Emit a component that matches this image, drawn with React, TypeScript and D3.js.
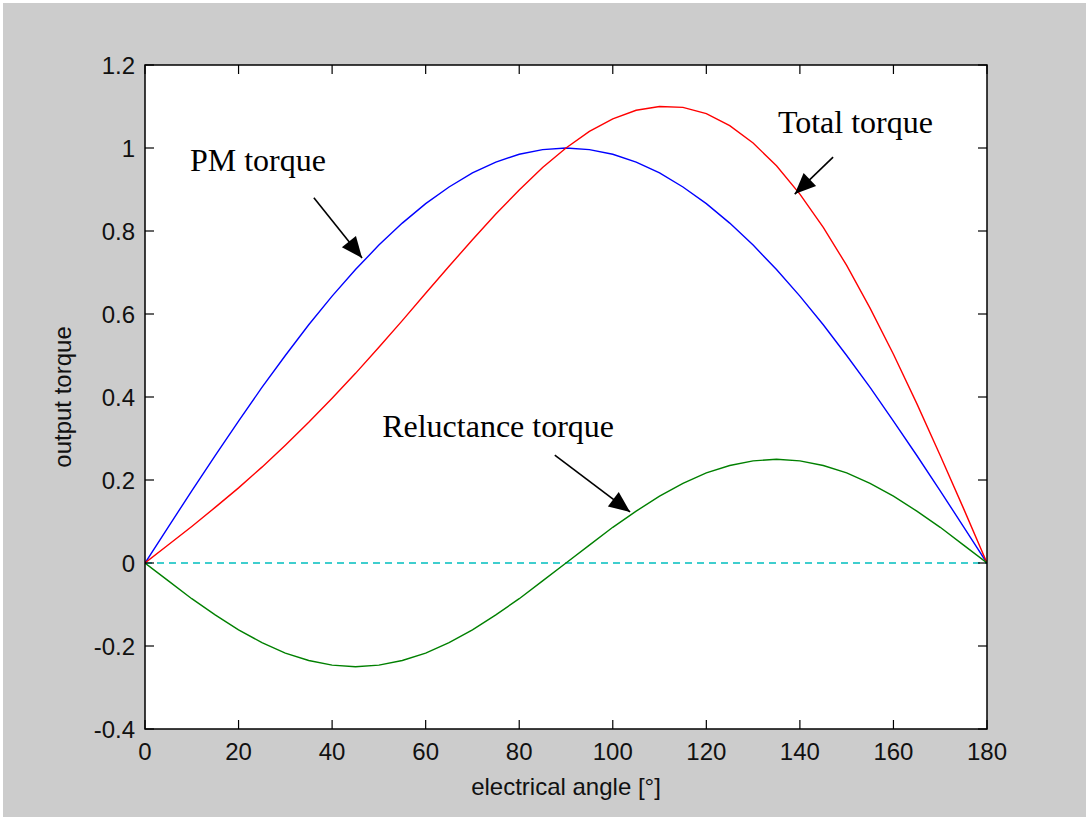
import React from "react";
import * as d3 from "d3";

const angles = [0,5,10,15,20,25,30,35,40,45,50,55,60,65,70,75,80,85,90,95,100,105,110,115,120,125,130,135,140,145,150,155,160,165,170,175,180];
const pmTorque = [0,0.087,0.174,0.259,0.342,0.423,0.5,0.574,0.643,0.707,0.766,0.819,0.866,0.906,0.94,0.966,0.985,0.996,1,0.996,0.985,0.966,0.94,0.906,0.866,0.819,0.766,0.707,0.643,0.574,0.5,0.423,0.342,0.259,0.174,0.087,0];
const reluctanceTorque = [0,-0.043,-0.086,-0.125,-0.161,-0.192,-0.217,-0.235,-0.246,-0.25,-0.246,-0.235,-0.217,-0.192,-0.161,-0.125,-0.086,-0.043,0,0.043,0.086,0.125,0.161,0.192,0.217,0.235,0.246,0.25,0.246,0.235,0.217,0.192,0.161,0.125,0.086,0.043,0];
const totalTorque = [0,0.044,0.088,0.134,0.181,0.231,0.284,0.339,0.397,0.457,0.52,0.584,0.65,0.715,0.779,0.841,0.899,0.953,1,1.04,1.07,1.091,1.1,1.098,1.083,1.054,1.012,0.957,0.889,0.809,0.717,0.614,0.503,0.384,0.259,0.131,0];
const zeroLine = [0, 0];
const zeroAngles = [0, 180];

const xTicks = [0,20,40,60,80,100,120,140,160,180];
const yTicks = [-0.4,-0.2,0,0.2,0.4,0.6,0.8,1,1.2];
const yTickLabels = ["-0.4","-0.2","0","0.2","0.4","0.6","0.8","1","1.2"];

const annotationLabels = ["PM torque", "Total torque", "Reluctance torque"];
const annotationText = [[9.6, 0.945], [135.3, 1.036], [50.7, 0.304]];
const arrowTails = [[36.1, 0.88], [147.1, 0.978], [87.6, 0.26]];
const arrowTips = [[46.4, 0.735], [138.9, 0.889], [103.7, 0.123]];

export default function App() {
  const W = 1086, H = 817;
  const L = 145, R = 987, T = 65, B = 729;
  const x = d3.scaleLinear().domain([0, 180]).range([L, R]);
  const y = d3.scaleLinear().domain([-0.4, 1.2]).range([B, T]);
  const line = (ys: number[], xs: number[] = angles) =>
    d3.line<number>().x((_, i) => x(xs[i])).y((d) => y(d))(ys) || "";
  const tick = 9;
  const sans = "'Liberation Sans', Arial, sans-serif";
  const serif = "'Liberation Serif', 'Times New Roman', serif";

  const arrowHead = (tx: number, ty: number, fx: number, fy: number) => {
    const dx = tx - fx, dy = ty - fy;
    const len = Math.hypot(dx, dy);
    const ux = dx / len, uy = dy / len;
    const hl = 21, hw = 9;
    const bx = tx - ux * hl, by = ty - uy * hl;
    return `${tx},${ty} ${bx - uy * hw},${by + ux * hw} ${bx + uy * hw},${by - ux * hw}`;
  };

  return (
    <svg width={W} height={H} style={{ position: "absolute", left: 0, top: 0, display: "block" }}>
      <rect x={0} y={0} width={W} height={H} fill="#ffffff" />
      <rect x={3} y={3} width={W - 3} height={H - 3} fill="#cccccc" />
      <rect x={L} y={T} width={R - L} height={B - T} fill="#ffffff" />
      <clipPath id="plotclip">
        <rect x={L} y={T} width={R - L} height={B - T} />
      </clipPath>
      <g clipPath="url(#plotclip)" fill="none" strokeWidth={1.4}>
        <path d={line(zeroLine, zeroAngles)} stroke="#00bfbf" strokeDasharray="7,5" />
        <path d={line(pmTorque)} stroke="#0000ff" />
        <path d={line(totalTorque)} stroke="#ff0000" />
        <path d={line(reluctanceTorque)} stroke="#008000" />
      </g>
      <rect x={L} y={T} width={R - L} height={B - T} fill="none" stroke="#000" strokeWidth={1.5} />
      {xTicks.map((t) => (
        <g key={"x" + t}>
          <line x1={x(t)} x2={x(t)} y1={B} y2={B - tick} stroke="#000" strokeWidth={1.2} />
          <line x1={x(t)} x2={x(t)} y1={T} y2={T + tick} stroke="#000" strokeWidth={1.2} />
          <text x={x(t)} y={B + 31} textAnchor="middle" fontFamily={sans} fontSize={24} fill="#111">{t}</text>
        </g>
      ))}
      {yTicks.map((t, i) => (
        <g key={"y" + t}>
          <line x1={L} x2={L + tick} y1={y(t)} y2={y(t)} stroke="#000" strokeWidth={1.2} />
          <line x1={R} x2={R - tick} y1={y(t)} y2={y(t)} stroke="#000" strokeWidth={1.2} />
          <text x={L - 10} y={y(t) + 9} textAnchor="end" fontFamily={sans} fontSize={24} fill="#111">{yTickLabels[i]}</text>
        </g>
      ))}
      <text x={(L + R) / 2} y={795} textAnchor="middle" fontFamily={sans} fontSize={24} fill="#111">electrical angle [°]</text>
      <text transform={`translate(71,${(T + B) / 2}) rotate(-90)`} textAnchor="middle" fontFamily={sans} fontSize={24} fill="#111">output torque</text>
      {annotationLabels.map((lab, i) => (
        <g key={lab}>
          <text x={x(annotationText[i][0])} y={y(annotationText[i][1])} fontFamily={serif} fontSize={32} fill="#000">{lab}</text>
          <line x1={x(arrowTails[i][0])} y1={y(arrowTails[i][1])} x2={x(arrowTips[i][0])} y2={y(arrowTips[i][1])} stroke="#000" strokeWidth={1.6} />
          <polygon points={arrowHead(x(arrowTips[i][0]), y(arrowTips[i][1]), x(arrowTails[i][0]), y(arrowTails[i][1]))} fill="#000" />
        </g>
      ))}
    </svg>
  );
}
